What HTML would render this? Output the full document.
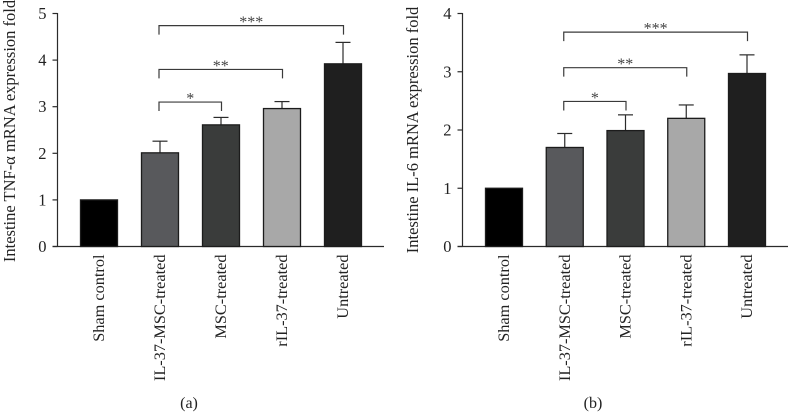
<!DOCTYPE html>
<html>
<head>
<meta charset="utf-8">
<style>
html,body{margin:0;padding:0;background:#fff;}
svg{display:block;font-family:"Liberation Serif",serif;}
</style>
</head>
<body>
<svg id="fig" width="788" height="412" viewBox="0 0 788 412" xmlns="http://www.w3.org/2000/svg"></svg>
<script>
const categories = ["Sham control", "IL-37-MSC-treated", "MSC-treated", "rIL-37-treated", "Untreated"];
const tnfValues = [1, 2.01, 2.61, 2.96, 3.92];
const tnfErrors = [0, 0.25, 0.16, 0.15, 0.46];
const tnfTicks = [0, 1, 2, 3, 4, 5];
const tnfBracketLevels = [3.1, 3.8, 4.74];
const il6Values = [1, 1.70, 1.99, 2.20, 2.97];
const il6Errors = [0, 0.24, 0.27, 0.23, 0.32];
const il6Ticks = [0, 1, 2, 3, 4];
const il6BracketLevels = [2.49, 3.07, 3.68];
const bracketTargets = [2, 3, 4];
const bracketStars = ["*", "**", "***"];
const barColors = ["#000000", "#58595c", "#3a3c3b", "#a8a8a8", "#1f1f1f"];
const NS = "http://www.w3.org/2000/svg";
const svg = document.getElementById("fig");
function make(tag, attrs, text) {
  const el = document.createElementNS(NS, tag);
  for (const k in attrs) el.setAttribute(k, attrs[k]);
  if (text !== undefined) el.textContent = text;
  svg.appendChild(el);
  return el;
}
function drawPanel(p, values, errors, ticks, levels, title, letter, key) {
  const yMax = ticks[ticks.length - 1];
  const yScale = v => p.y0 - v * (p.y0 - p.y1) / yMax;
  const xScale = i => p.first + i * p.step;
  const ink = "#2b2b2b";

  const yAxis = make("line", {x1: p.ax, y1: p.y1 - 0.5, x2: p.ax, y2: p.y0 + 0.5, stroke: ink, "stroke-width": 1.2});
  
  
  const xAxis = make("line", {x1: p.ax - 5, y1: p.y0, x2: p.xEnd, y2: p.y0, stroke: ink, "stroke-width": 1.2});
  
  

  ticks.forEach(t => {
    const tick = make("line", {x1: p.ax - 5, y1: yScale(t), x2: p.ax, y2: yScale(t), stroke: ink, "stroke-width": 1.2});
    
    
    const label = make("text", {x: p.ax - 11, y: yScale(t) + 5.5, "text-anchor": "end", "font-size": 16.5, fill: "#222"}, String(t));
    
    
  });

  values.forEach((v, i) => {
    const cx = xScale(i);
    if (errors[i] > 0) {
      const stem = make("line", {x1: cx, y1: yScale(v), x2: cx, y2: yScale(v + errors[i]), stroke: ink, "stroke-width": 1.2});
      
      
      const cap = make("line", {x1: cx - 7.5, y1: yScale(v + errors[i]), x2: cx + 7.5, y2: yScale(v + errors[i]), stroke: ink, "stroke-width": 1.2});
      
      
    }
    const bar = make("rect", {x: cx - 18.5, y: yScale(v), width: 37, height: p.y0 - yScale(v), fill: barColors[i], stroke: "#1c1c1c", "stroke-width": 1.3});
    
    
    const label = make("text", {x: 0, y: 0, transform: "translate(" + (cx + 5) + " " + (p.y0 + 8) + ") rotate(-90)", "text-anchor": "end", "font-size": 16.3, fill: "#222"}, categories[i]);
    
    
  });

  levels.forEach((lv, i) => {
    const xa = xScale(1) - 1;
    const xb = xScale(bracketTargets[i]) + 0.5;
    const y = yScale(lv);
    const br = make("path", {d: "M" + xa + " " + (y + 9) + "V" + y + "H" + xb + "V" + (y + 9), fill: "none", stroke: "#3a3a3a", "stroke-width": 1.2});
    
    
    const star = make("text", {x: (xa + xb) / 2, y: y + 1.5, "text-anchor": "middle", "font-size": 16, fill: "#444"}, bracketStars[i]);
    
    
  });

  const yTitle = make("text", {x: 0, y: 0, transform: "translate(" + p.titleX + " " + p.titleY + ") rotate(-90)", "text-anchor": "middle", "font-size": 16.5, fill: "#222"}, title);
  
  
  const panel = make("text", {x: p.letterX, y: 408, "text-anchor": "middle", "font-size": 16, fill: "#222"}, letter);
  
  
}
drawPanel({ax: 57.5, y0: 246.5, y1: 13.5, xEnd: 384, first: 99, step: 61, titleX: 15, titleY: 131, letterX: 189},
  tnfValues, tnfErrors, tnfTicks, tnfBracketLevels, "Intestine TNF-\u03B1 mRNA expression fold", "(a)", "tnf");
drawPanel({ax: 462.5, y0: 246.5, y1: 13.5, xEnd: 788, first: 504, step: 60.75, titleX: 418, titleY: 130, letterX: 593},
  il6Values, il6Errors, il6Ticks, il6BracketLevels, "Intestine IL-6 mRNA expression fold", "(b)", "il6");
</script>
</body>
</html>
